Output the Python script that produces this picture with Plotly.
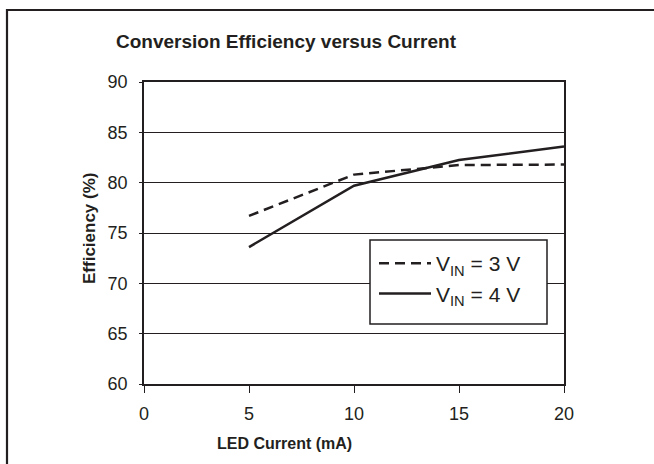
import plotly.graph_objects as go

current_ma = [5, 10, 15, 20]
eff_vin3 = [76.7, 80.8, 81.75, 81.8]
eff_vin4 = [73.6, 79.7, 82.25, 83.6]
series_names = ["V<sub>IN</sub> = 3 V", "V<sub>IN</sub> = 4 V"]
x_ticks = [0, 5, 10, 15, 20]
y_ticks = [60, 65, 70, 75, 80, 85, 90]

FONT = "Liberation Sans, Arial, sans-serif"
INK = "#231f20"

W, H = 654, 464
L, R, T, B = 144, 90, 82, 80
pw, ph = W - L - R, H - T - B

def px_x(p):
    return (p - L) / pw

def px_y(p):
    return (H - B - p) / ph

fig = go.Figure()
fig.add_trace(go.Scatter(x=current_ma, y=eff_vin3, mode="lines", name=series_names[0],
                         line=dict(color=INK, width=2.5, dash="10px,6px")))
fig.add_trace(go.Scatter(x=current_ma, y=eff_vin4, mode="lines", name=series_names[1],
                         line=dict(color=INK, width=2.5)))

fig.update_layout(
    width=W, height=H,
    margin=dict(l=L, r=R, t=T, b=B, pad=0),
    paper_bgcolor="white", plot_bgcolor="white",
    font=dict(family=FONT, color=INK, size=18),
    showlegend=True,
    legend=dict(x=px_x(374), y=px_y(243), xanchor="left", yanchor="top",
                bgcolor="rgba(0,0,0,0)", borderwidth=0,
                font=dict(size=21, family=FONT, color=INK),
                itemwidth=52, tracegroupgap=0),
    xaxis=dict(range=[0, 20], tickvals=x_ticks, ticks="outside", ticklen=7, tickwidth=1.2,
               tickcolor=INK, showline=True, linecolor=INK, linewidth=1.5, mirror=True,
               showgrid=False, zeroline=False, ticklabelstandoff=6,
               tickfont=dict(size=18, family=FONT, color=INK), fixedrange=True),
    yaxis=dict(range=[60, 90], tickvals=y_ticks, ticks="outside", ticklen=3, tickwidth=1.2,
               tickcolor=INK, showline=True, linecolor=INK, linewidth=1.5, mirror=True,
               showgrid=True, gridcolor=INK, gridwidth=1.3, zeroline=False,
               ticklabelstandoff=8,
               tickfont=dict(size=18, family=FONT, color=INK), fixedrange=True),
)

# legend box
fig.add_shape(type="rect", xref="paper", yref="paper",
              x0=px_x(370), y0=px_y(240), x1=px_x(547), y1=px_y(324),
              line=dict(color=INK, width=1.5), fillcolor="white", layer="above")

fig.add_annotation(text="<b>Conversion Efficiency versus Current</b>", xref="paper", yref="paper",
                   x=px_x(286), y=px_y(41), xanchor="center", yanchor="middle", showarrow=False,
                   font=dict(size=19, family=FONT, color=INK))
fig.add_annotation(text="<b>LED Current (mA)</b>", xref="paper", yref="paper",
                   x=px_x(284), y=px_y(443), xanchor="center", yanchor="middle", showarrow=False,
                   font=dict(size=16, family=FONT, color=INK))
fig.add_annotation(text="<b>Efficiency (%)</b>", xref="paper", yref="paper",
                   x=px_x(89), y=px_y(229), xanchor="center", yanchor="middle", showarrow=False,
                   textangle=-90, font=dict(size=17, family=FONT, color=INK))

fig.add_shape(type="rect", xref="paper", yref="paper",
              x0=px_x(7), y0=px_y(10), x1=px_x(670), y1=px_y(480),
              line=dict(color=INK, width=2.2), fillcolor="rgba(0,0,0,0)", layer="above")

fig.write_html("out.html", config=dict(displayModeBar=False),
               post_script="document.body.style.margin='0px';")
